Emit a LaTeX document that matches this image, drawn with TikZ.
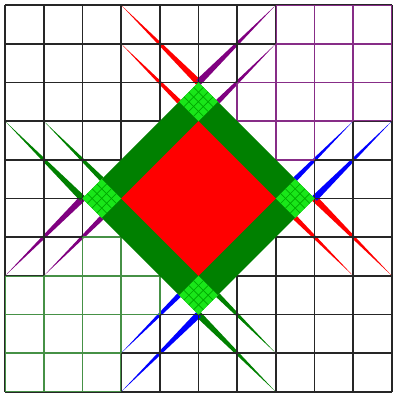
\documentclass[tikz,border=0pt]{standalone}
\usetikzlibrary{calc}

\definecolor{darkgreen}{RGB}{0,128,0}
\definecolor{brightgreen}{RGB}{25,230,25}
\definecolor{webpurple}{RGB}{128,0,128}
\definecolor{gridpurple}{RGB}{135,45,135}
\definecolor{gridgreen}{RGB}{70,145,70}

% tapered stroke: thick at #2, running out to a point at #3
\newcommand{\taper}[3]{\fill[#1] ($(#2)!0.03!90:(#3)$) -- (#3) -- ($(#2)!0.03!-90:(#3)$) -- cycle;}

\begin{document}
\begin{tikzpicture}
[
    gridline/.style={draw=black!85, line width=1.2pt},
    purpleline/.style={draw=gridpurple, line width=1.2pt},
    greenline/.style={draw=gridgreen, line width=1.2pt},
    subline/.style={draw=green!65!black, line width=0.5pt}
]
    \useasboundingbox (-0.13,-0.08) rectangle (10.05,10.13);

    % corners of the frame
    \coordinate (top) at (5,8);
    \coordinate (right) at (8,5);
    \coordinate (bottom) at (5,2);
    \coordinate (left) at (2,5);

    % red
    \taper{red}{top}{3,10}
    \taper{red}{4.5,7.5}{3,9}
    \taper{red}{right}{10,3}
    \taper{red}{7.5,4.5}{9,3}
    % purple
    \taper{webpurple}{top}{7,10}
    \taper{webpurple}{5.5,7.5}{7,9}
    \taper{webpurple}{left}{0,3}
    \taper{webpurple}{2.5,4.5}{1,3}
    % green
    \taper{darkgreen}{left}{0,7}
    \taper{darkgreen}{2.5,5.5}{1,7}
    \taper{darkgreen}{bottom}{7,0}
    \taper{darkgreen}{5.5,2.5}{7,1}
    % blue
    \taper{blue}{right}{10,7}
    \taper{blue}{7.5,5.5}{9,7}
    \taper{blue}{bottom}{3,0}
    \taper{blue}{4.5,2.5}{3,1}

    \draw[gridline, step=1] (0,0) grid (10,10);

    \begin{scope}
        \clip (7,10) -- (10,10) -- (10,7) -- (9,7) -- (7.5,5.5) -- (5.5,7.5) -- (7,9) -- cycle;
        \draw[purpleline, step=1] (0,0) grid (10,10);
    \end{scope}
    \begin{scope}
        \clip (0,3) -- (1,3) -- (2.5,4.5) -- (4.5,2.5) -- (3,1) -- (3,0) -- (0,0) -- cycle;
        \draw[greenline, step=1] (0,0) grid (10,10);
    \end{scope}

    \fill[darkgreen] (top) -- (right) -- (bottom) -- (left) -- cycle;
    \fill[red] (5,7) -- (7,5) -- (5,3) -- (3,5) -- cycle;

    \foreach \cx/\cy in {5/7.5, 7.5/5, 5/2.5, 2.5/5} {
        \begin{scope}[shift={(\cx,\cy)}, rotate=45]
            \fill[brightgreen] (-0.3536,-0.3536) rectangle (0.3536,0.3536);
            \foreach \t in {-0.1768,0,0.1768} {
                \draw[subline] (\t,-0.3536) -- (\t,0.3536);
                \draw[subline] (-0.3536,\t) -- (0.3536,\t);
            }
        \end{scope}
    }
\end{tikzpicture}
\end{document}
